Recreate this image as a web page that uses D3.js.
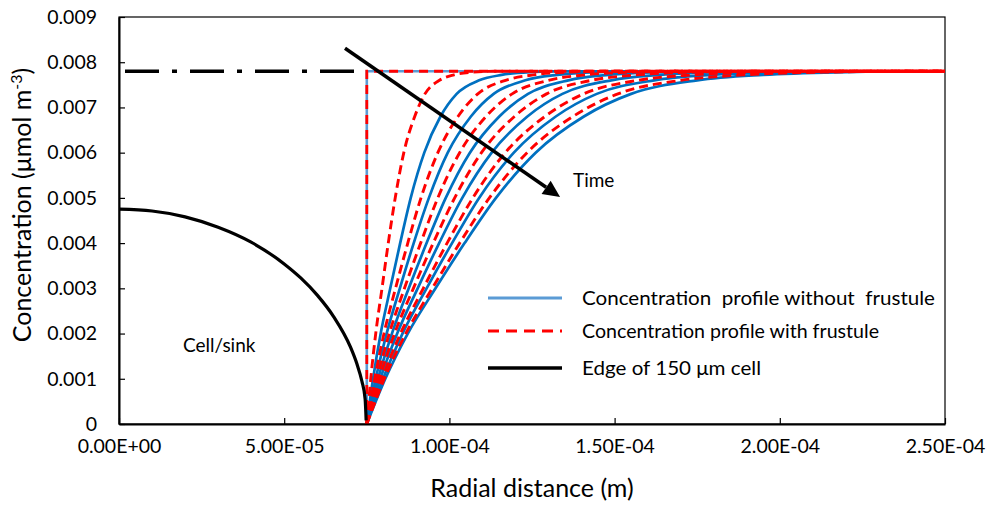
<!DOCTYPE html>
<html>
<head>
<meta charset="utf-8">
<script src="https://cdn.jsdelivr.net/npm/d3@7"></script>
<style>
  body { margin: 0; background: #fff; }
  svg { display: block; }
  text { font-family: Lato, "Open Sans", sans-serif; fill: #000; }
</style>
</head>
<body>
<svg id="chart" width="988" height="509"></svg>
<script>
// radial distance in 1e-5 m, concentration in 1e-3 umol m-3
var xTicks = [0, 5, 10, 15, 20, 25]
var xTickLabels = ['0.00E+00', '5.00E-05', '1.00E-04', '1.50E-04', '2.00E-04', '2.50E-04']
var yTicks = [0, 1, 2, 3, 4, 5, 6, 7, 8, 9]
var yTickLabels = ['0', '0.001', '0.002', '0.003', '0.004', '0.005', '0.006', '0.007', '0.008', '0.009']

// concentration levels shared by all the time profiles
var profileC = [0, 1.0, 2.0, 3.0, 4.0, 5.0, 6.0, 6.8, 7.3, 7.6, 7.72, 7.78, 7.8, 7.8]
// radial position of each profile at those levels (without frustule)
var blueR = [
  [7.5, 7.69, 7.92, 8.21, 8.51, 8.83, 9.24, 9.73, 10.22, 10.9, 11.58, 12.43, 13.45, 25],
  [7.5, 7.77, 8.1, 8.5, 8.92, 9.38, 9.95, 10.65, 11.34, 12.3, 13.26, 14.46, 15.9, 25],
  [7.5, 7.84, 8.26, 8.77, 9.31, 9.89, 10.62, 11.51, 12.38, 13.6, 14.82, 16.35, 18.18, 25],
  [7.5, 7.91, 8.42, 9.04, 9.69, 10.39, 11.28, 12.36, 13.42, 14.9, 16.38, 18.23, 20.45, 25],
  [7.5, 7.99, 8.58, 9.31, 10.08, 10.9, 11.95, 13.22, 14.46, 16.2, 17.94, 20.12, 22.73, 25],
  [7.5, 8.06, 8.74, 9.58, 10.46, 11.41, 12.61, 14.07, 15.5, 17.5, 19.5, 22.0, 24.2, 25]
]
// with frustule
var redR = [
  [7.5, 7.62, 7.77, 7.96, 8.15, 8.36, 8.62, 8.95, 9.26, 9.7, 10.14, 10.69, 11.35, 25],
  [7.5, 7.74, 8.02, 8.37, 8.74, 9.14, 9.65, 10.26, 10.86, 11.7, 12.54, 13.59, 14.85, 25],
  [7.5, 7.81, 8.18, 8.64, 9.13, 9.65, 10.31, 11.11, 11.9, 13.0, 14.1, 15.48, 17.13, 25],
  [7.5, 7.88, 8.34, 8.91, 9.51, 10.16, 10.97, 11.97, 12.94, 14.3, 15.66, 17.36, 19.4, 25],
  [7.5, 7.96, 8.52, 9.21, 9.93, 10.71, 11.69, 12.89, 14.06, 15.7, 17.34, 19.39, 21.85, 25],
  [7.5, 8.03, 8.68, 9.48, 10.31, 11.21, 12.35, 13.74, 15.1, 17.0, 18.9, 21.28, 24.13, 25]
]
// t = 0 profile
var initR = [7.5, 7.5, 25]
var initC = [0, 7.8, 7.8]
// bulk level inside the cell radius (dash-dot)
var bulkR = [0, 7.5]
var bulkC = [7.8, 7.8]
// edge of the 150 um cell
var cellR = [0, 1, 2, 3, 4, 5, 5.5, 6, 6.5, 7, 7.2, 7.35, 7.45, 7.48]
var cellC = [4.75, 4.71, 4.58, 4.35, 4.02, 3.54, 3.23, 2.85, 2.37, 1.71, 1.33, 0.95, 0.55, 0.08]

var svg = d3.select('#chart')
var width = 988, height = 509
var margin = { top: 17, right: 43, bottom: 85, left: 119 }

var x = d3.scaleLinear().domain([0, 25]).range([margin.left, width - margin.right])
var y = d3.scaleLinear().domain([0, 9]).range([height - margin.bottom, margin.top])

var smooth = d3.line().x(d => x(d[0])).y(d => y(d[1])).curve(d3.curveMonotoneX)
var straight = d3.line().x(d => x(d[0])).y(d => y(d[1]))

function zip(rs, cs) { return rs.map((r, i) => [r, cs[i]]) }

// plot frame (top/right)
svg.append('rect')
  .attr('x', x(0)).attr('y', y(9))
  .attr('width', x(25) - x(0)).attr('height', y(0) - y(9))
  .attr('fill', 'none').attr('stroke', '#000').attr('stroke-width', 1.2)

var curves = svg.append('g').attr('fill', 'none')

curves.append('path')
  .attr('d', straight(zip(initR, initC)))
  .attr('stroke', '#5b9bd5').attr('stroke-width', 2.6)
curves.selectAll('path.blue')
  .data(blueR)
  .join('path')
  .attr('class', 'blue')
  .attr('d', r => smooth(zip(r, profileC)))
  .attr('stroke', '#0070c0').attr('stroke-width', 2.7)

curves.append('path')
  .attr('d', straight(zip(initR, initC)))
  .attr('stroke', '#ff0000').attr('stroke-width', 2.8)
  .attr('stroke-dasharray', '9 6')
curves.selectAll('path.red')
  .data(redR)
  .join('path')
  .attr('class', 'red')
  .attr('d', r => smooth(zip(r, profileC)))
  .attr('stroke', '#ff0000').attr('stroke-width', 2.9)
  .attr('stroke-dasharray', '9 5')

// cell edge and bulk level
curves.append('path')
  .attr('d', smooth(zip(cellR, cellC)))
  .attr('stroke', '#000').attr('stroke-width', 3.2)
curves.append('path')
  .attr('d', straight(zip(bulkR, bulkC)))
  .attr('stroke', '#000').attr('stroke-width', 3.5)
  .attr('stroke-dasharray', '34 13 5 13')
  .attr('stroke-dashoffset', 59)

// time arrow
var arrowFrom = [6.84, 8.31], arrowTo = [13.35, 5.02]
var ax0 = x(arrowFrom[0]), ay0 = y(arrowFrom[1]), ax1 = x(arrowTo[0]), ay1 = y(arrowTo[1])
var ang = Math.atan2(ay1 - ay0, ax1 - ax0), headL = 17, headW = 8
var bx = ax1 - headL * Math.cos(ang), by = ay1 - headL * Math.sin(ang)
svg.append('line')
  .attr('x1', ax0).attr('y1', ay0).attr('x2', bx).attr('y2', by)
  .attr('stroke', '#000').attr('stroke-width', 3.5)
svg.append('path')
  .attr('d', 'M' + ax1 + ',' + ay1
    + 'L' + (bx + headW * Math.sin(ang)) + ',' + (by - headW * Math.cos(ang))
    + 'L' + (bx - headW * Math.sin(ang)) + ',' + (by + headW * Math.cos(ang)) + 'Z')
  .attr('fill', '#000')

// axes
svg.append('g')
  .attr('transform', 'translate(' + margin.left + ',0)')
  .call(d3.axisLeft(y).tickValues(yTicks).tickSize(-6).tickSizeOuter(0).tickPadding(22)
    .tickFormat((d, i) => yTickLabels[i]))
svg.append('g')
  .attr('transform', 'translate(0,' + (height - margin.bottom) + ')')
  .call(d3.axisBottom(x).tickValues(xTicks).tickSize(-6).tickSizeOuter(0).tickPadding(15)
    .tickFormat((d, i) => xTickLabels[i]))
svg.selectAll('.domain').attr('stroke', '#000').attr('stroke-width', 2)
svg.selectAll('.tick line').attr('stroke', '#000').attr('stroke-width', 1.2)
svg.selectAll('.tick text').attr('font-family', 'Lato, sans-serif').attr('font-size', 19.5).attr('fill', '#000')

// titles
svg.append('text')
  .attr('x', (margin.left + width - margin.right) / 2).attr('y', 497)
  .attr('text-anchor', 'middle').attr('font-size', 25)
  .text('Radial distance (m)')
var yt = svg.append('text')
  .attr('transform', 'translate(31,205) rotate(-90)')
  .attr('text-anchor', 'middle').attr('font-size', 25)
yt.append('tspan').text('Concentration (\u03bcmol m')
yt.append('tspan').attr('font-size', 16).attr('dy', -9).text('-3')
yt.append('tspan').attr('dy', 9).text(')')

svg.append('text').attr('x', 183).attr('y', 352).attr('font-size', 19).text('Cell/sink')
svg.append('text').attr('x', 573).attr('y', 187).attr('font-size', 19).text('Time')

// legend
var legendItems = [
  { label: 'Concentration  profile without  frustule', stroke: '#5b9bd5', dash: null, w: 3, len: 353 },
  { label: 'Concentration profile with frustule', stroke: '#ff0000', dash: '11 7', w: 3, len: 297 },
  { label: 'Edge of 150 \u03bcm cell', stroke: '#000', dash: null, w: 3.5, len: 179 }
]
var legendY = [298, 331, 368]
var lg = svg.append('g')
legendItems.forEach(function (d, i) {
  lg.append('line')
    .attr('x1', 488).attr('x2', 562).attr('y1', legendY[i]).attr('y2', legendY[i])
    .attr('stroke', d.stroke).attr('stroke-width', d.w)
    .attr('stroke-dasharray', d.dash)
  lg.append('text')
    .attr('x', 582).attr('y', legendY[i] + 7)
    .attr('font-size', 19)
    .attr('xml:space', 'preserve').style('white-space', 'pre')
    .attr('textLength', d.len).attr('lengthAdjust', 'spacingAndGlyphs')
    .text(d.label)
})
</script>
</body>
</html>
